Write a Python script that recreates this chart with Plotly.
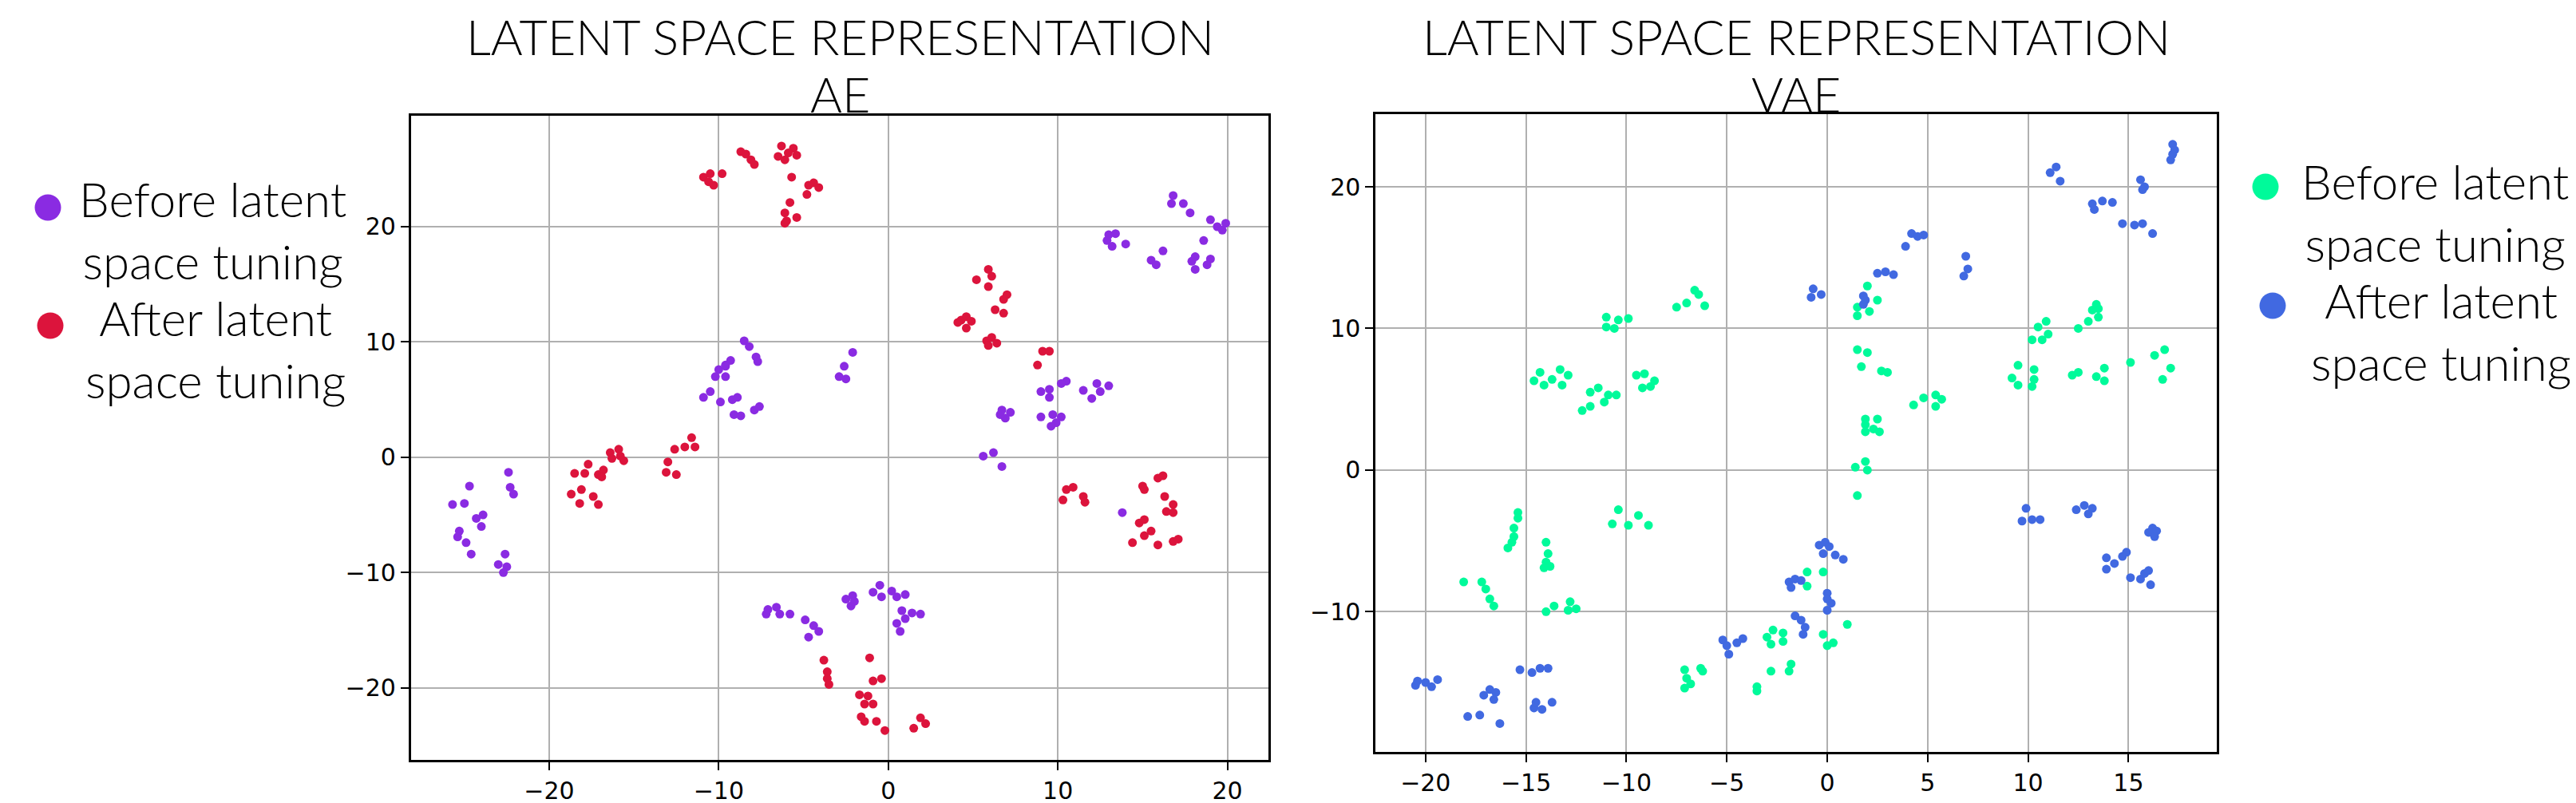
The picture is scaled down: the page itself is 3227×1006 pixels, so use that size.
import plotly.graph_objects as go

# ---- AE latent space (left panel) ----
ae_before_x = [-10.0, -9.6, -8.5, -8.2, -7.8, -7.7, -9.3, -9.6, -10.2, -9.6, -10.5, -10.9, -9.9, -9.2, -8.9,
               -9.1, -8.7, -7.9, -7.6, -2.1, -2.6, -2.9, -2.5,
               16.8, 16.7, 17.4, 17.8, 19.0, 19.4, 19.9, 19.7, 18.6, 13.0, 13.4, 13.2, 14.0, 12.9, 15.5, 16.2,
               15.8, 18.1, 17.9, 18.1, 19.0, 18.8,
               10.5, 10.2, 9.0, 9.5, 9.5, 11.5, 12.3, 13.0, 12.5, 12.0, 6.7, 7.2, 6.9, 6.6, 9.0, 9.7, 10.2, 9.9,
               9.6, 5.6, 6.2, 6.7, 13.8,
               -22.4, -22.3, -22.1, -24.7, -25.7, -25.0, -24.3, -23.9, -24.0, -25.3, -25.4, -24.9, -24.6, -22.6,
               -23.0, -22.5, -22.7,
               -7.2, -7.1, -6.6, -6.4, -5.8, -4.9, -4.4, -4.1, -4.7, -2.5, -2.1, -2.2, -2.0, -0.5, -0.9, -0.4,
               0.2, 0.5, 1.0, 0.8, 1.4, 1.9, 0.5, 1.0, 0.7]
ae_before_y = [7.6, 8.0, 10.1, 9.6, 8.7, 8.3, 8.4, 7.9, 7.0, 7.0, 5.7, 5.2, 4.8, 5.0, 5.2,
               3.7, 3.6, 4.1, 4.4, 9.1, 7.9, 7.0, 6.8,
               22.7, 22.0, 22.0, 21.2, 20.6, 20.0, 20.3, 19.7, 18.8, 19.3, 19.4, 18.3, 18.5, 18.8, 17.1, 17.9,
               16.7, 17.4, 17.0, 16.3, 17.2, 16.7,
               6.6, 6.4, 5.7, 5.9, 5.2, 5.8, 6.4, 6.2, 5.7, 5.1, 4.1, 3.9, 3.4, 3.7, 3.5, 3.7, 3.5, 3.0,
               2.7, 0.1, 0.4, -0.8, -4.8,
               -1.3, -2.6, -3.2, -2.5, -4.1, -4.0, -5.3, -5.0, -6.0, -6.4, -6.9, -7.4, -8.4, -8.4,
               -9.3, -9.5, -10.0,
               -13.6, -13.2, -13.0, -13.6, -13.6, -14.1, -14.6, -15.1, -15.6, -12.3, -12.0, -12.9, -12.5, -11.1,
               -11.7, -12.1, -11.6, -12.1, -11.9, -13.3, -13.5, -13.6, -14.4, -14.0, -15.1]

ae_after_x = [-10.9, -10.5, -10.6, -10.3, -9.8, -8.7, -8.4, -8.1, -7.9, -6.3, -6.5, -6.1, -5.6, -5.4, -5.9,
              -5.7, -4.7, -4.1, -4.8, -4.4, -5.8, -6.1, -6.0, -5.4, -6.1,
              5.9, 5.2, 6.1, 5.9, 7.0, 6.8, 6.3, 6.8, 4.3, 4.6, 4.1, 4.6, 4.9, 5.8, 6.1, 6.4, 5.9, 9.1, 9.5,
              8.8,
              -18.5, -17.7, -17.9, -17.1, -16.8, -16.9, -16.4, -15.9, -15.8, -15.6, -16.3, -18.7, -18.1,
              -18.2, -17.4, -17.1, -11.6, -11.4, -12.0, -12.6, -13.0, -13.1, -12.5,
              10.5, 10.9, 10.3, 11.5, 11.6, 15.0, 15.1, 15.9, 16.2, 16.3, 16.8, 16.4, 16.8, 14.8, 15.1, 15.1,
              15.5, 14.4, 15.9, 16.8, 17.1,
              -3.8, -3.6, -3.6, -3.5, -1.1, -0.9, -0.4, -1.7, -1.2, -1.4, -0.9, -1.6, -1.4, -0.7, -0.2,
              1.5, 1.9, 2.2]
ae_after_y = [24.3, 24.6, 23.9, 23.6, 24.6, 26.5, 26.3, 25.8, 25.4, 27.0, 26.1, 25.8, 26.8, 26.2, 26.4,
              24.3, 23.6, 23.4, 22.8, 23.8, 22.1, 21.2, 20.5, 20.8, 20.3,
              16.3, 15.4, 15.7, 14.8, 14.1, 13.7, 12.8, 12.5, 11.9, 12.2, 11.7, 11.2, 11.8, 10.1, 10.4, 9.9,
              9.7, 9.2, 9.2, 8.0,
              -1.4, -0.6, -1.4, -1.5, -1.1, -1.7, 0.4, 0.7, 0.1, -0.3, -0.1, -3.2, -2.8,
              -4.0, -3.4, -4.1, 1.7, 0.9, 0.9, 0.7, -0.4, -1.3, -1.5,
              -2.8, -2.6, -3.7, -3.4, -3.9, -2.5, -2.8, -1.8, -1.6, -3.4, -4.1, -4.7, -4.8, -5.7, -5.4, -6.8,
              -6.4, -7.4, -7.6, -7.3, -7.1,
              -17.6, -18.6, -19.2, -19.7, -17.4, -19.4, -19.2, -20.6, -20.7, -21.4, -21.4, -22.5, -22.9,
              -22.9, -23.7, -23.5, -22.6, -23.1]

# ---- VAE latent space (right panel) ----
vae_before_x = [2.0, 2.5, 1.5, 2.1, 1.5, -6.6, -6.4, -7.0, -6.1, -7.5, -11.0, -10.4, -9.9, -11.0, -10.6,
                13.4, 13.5, 13.2, 13.5, 13.0, 12.5, 10.9, 10.5, 11.0, 10.2, 10.7,
                1.5, 2.0, 1.7, 2.7, 3.0, 16.8, 16.3, 17.1, 16.7, 15.1, 13.8, 13.4, 13.8, 12.2, 12.5,
                9.5, 9.2, 10.3, 10.3, 10.2, 9.5,
                -14.3, -14.6, -14.1, -13.7, -13.3, -12.9, -13.2, -9.5, -9.1, -8.6, -9.2, -8.8,
                -11.8, -11.4, -10.9, -10.5, -11.1, -11.8, -12.2,
                4.8, 5.4, 5.7, 4.3, 5.4, 1.9, 2.5, 1.9, 2.3, 1.9, 2.6, 1.9, 1.4, 2.0, 1.5,
                -10.4, -10.7, -9.9, -9.4, -8.9, -15.4, -15.4, -15.6, -15.6, -15.7, -15.9,
                -14.0, -13.9, -14.0, -14.1, -13.8, -18.1, -17.2, -17.0, -16.8, -16.6,
                -14.0, -13.6, -12.8, -12.9, -12.5, -1.0, -0.2, -1.0, 1.0,
                -2.7, -2.2, -3.0, -2.8, -2.2, -0.2, 0.0, 0.3,
                -7.1, -7.0, -6.8, -7.1, -6.3, -6.2, -2.8, -1.8, -1.9, -3.5, -3.5]
vae_before_y = [13.0, 12.0, 11.5, 11.2, 10.9, 12.7, 12.4, 11.8, 11.6, 11.5, 10.8, 10.6, 10.7, 10.1, 10.0,
                11.7, 11.4, 11.3, 10.8, 10.5, 10.0, 10.5, 10.1, 9.6, 9.2, 9.2,
                8.5, 8.3, 7.3, 7.0, 6.9, 8.5, 8.1, 7.2, 6.4, 7.6, 7.2, 6.6, 6.3, 6.7, 6.9,
                7.4, 6.5, 7.1, 6.4, 5.9, 6.0,
                6.9, 6.3, 6.0, 6.4, 7.1, 6.7, 6.0, 6.7, 6.8, 6.3, 5.8, 5.9,
                5.5, 5.8, 5.3, 5.3, 4.8, 4.5, 4.2,
                5.1, 5.3, 5.0, 4.6, 4.5, 3.6, 3.6, 3.2, 2.9, 2.7, 2.7, 0.6, 0.2, 0.0, -1.8,
                -2.8, -3.8, -3.9, -3.2, -3.9, -3.0, -3.4, -4.1, -4.7, -5.1, -5.5,
                -5.1, -5.9, -6.5, -6.9, -6.8, -7.9, -7.9, -8.4, -9.1, -9.6,
                -10.0, -9.6, -9.3, -9.9, -9.8, -7.2, -7.2, -8.2, -10.9,
                -11.3, -11.5, -11.8, -12.3, -12.1, -11.6, -12.4, -12.2,
                -14.1, -14.7, -15.1, -15.4, -14.0, -14.2, -14.2, -13.7, -14.2, -15.3, -15.6]

vae_after_x = [17.2, 17.3, 17.1, 17.2, 11.1, 11.4, 11.6, 15.6, 15.8, 15.7, 13.2, 13.7, 14.2, 13.3,
               14.7, 15.3, 15.7, 16.2, 4.2, 4.5, 4.8, 3.9, 6.9, 7.0, 6.8, 2.9, 3.3, 2.5,
               -0.7, -0.3, -0.8, 1.8, 1.9, 1.8,
               -0.4, -0.1, 0.1, -0.2, 0.4, 0.8, -1.9, -1.6, -1.3, -1.8, 0.0, 0.0, 0.2, 0.0,
               -1.6, -1.3, -1.1, -1.2, -5.2, -5.0, -4.9, -4.5, -4.2,
               9.9, 9.7, 10.2, 10.6, 12.4, 12.8, 13.0, 13.2, 16.2, 16.0, 16.4, 16.3,
               13.9, 13.9, 14.3, 14.7, 14.9, 15.1, 15.6, 15.8, 16.0, 16.1,
               -20.5, -20.4, -20.0, -19.7, -19.4, -17.1, -16.8, -16.5, -16.6, -17.9, -17.3, -16.3,
               -15.3, -14.7, -14.3, -13.9, -14.6, -14.2, -14.5, -13.7]
vae_after_y = [23.0, 22.6, 21.9, 22.3, 21.0, 21.4, 20.4, 20.5, 20.0, 19.8, 18.8, 19.0, 18.9, 18.4,
               17.4, 17.3, 17.4, 16.7, 16.7, 16.5, 16.6, 15.8, 15.1, 14.2, 13.7, 14.0, 13.8, 13.9,
               12.8, 12.4, 12.2, 12.3, 12.0, 11.7,
               -5.3, -5.1, -5.4, -5.9, -6.0, -6.3, -7.9, -7.7, -7.8, -8.3, -8.7, -9.1, -9.4, -9.9,
               -10.3, -10.6, -11.1, -11.6, -12.0, -12.4, -13.0, -12.2, -11.9,
               -2.7, -3.6, -3.5, -3.5, -2.8, -2.5, -3.1, -2.7, -4.1, -4.4, -4.3, -4.7,
               -6.2, -7.0, -6.6, -6.1, -5.8, -7.6, -7.7, -7.3, -7.1, -8.1,
               -15.2, -14.9, -15.0, -15.3, -14.8, -15.9, -15.5, -15.7, -16.2, -17.4, -17.3, -17.9,
               -14.1, -14.3, -14.0, -14.0, -16.8, -16.9, -16.4, -16.4]

legend_labels = ["Before latent<br>space tuning", "After latent<br>space tuning"]
panel_titles = ["LATENT SPACE REPRESENTATION", "AE", "VAE"]

PURPLE = "#8a2be2"
RED = "#dc143c"
GREEN = "#00fa9a"
BLUE = "#4169e1"

W, H = 3227, 1006
light_font = "Lato, Roboto, 'Open Sans', sans-serif"

fig = go.Figure()
fig.add_trace(go.Scatter(x=ae_before_x, y=ae_before_y, mode="markers", name="AE before",
                         marker=dict(color=PURPLE, size=11), xaxis="x", yaxis="y"))
fig.add_trace(go.Scatter(x=ae_after_x, y=ae_after_y, mode="markers", name="AE after",
                         marker=dict(color=RED, size=11), xaxis="x", yaxis="y"))
fig.add_trace(go.Scatter(x=vae_before_x, y=vae_before_y, mode="markers", name="VAE before",
                         marker=dict(color=GREEN, size=11), xaxis="x2", yaxis="y2"))
fig.add_trace(go.Scatter(x=vae_after_x, y=vae_after_y, mode="markers", name="VAE after",
                         marker=dict(color=BLUE, size=11), xaxis="x2", yaxis="y2"))

axis_style = dict(showline=True, mirror=True, linecolor="black", linewidth=2.5,
                  ticks="outside", ticklen=10, tickwidth=2, tickcolor="black",
                  showgrid=True, gridcolor="#b0b0b0", gridwidth=2, zeroline=False,
                  tickfont=dict(family="DejaVu Sans", size=30, color="black"))


def px_x(v):
    return v / W


def px_y(v):
    return 1 - v / H


# legend: big dot + centred two-line label, placed in pixels like the original
legend_items = [
    (52, 252, PURPLE, 258, 203, legend_labels[0]),
    (55, 400, RED, 262, 352, legend_labels[1]),
    (2830, 226, GREEN, 3042, 181, legend_labels[0]),
    (2839, 375, BLUE, 3050, 330, legend_labels[1]),
]
shapes = []
annotations = []
for cx, cy, col, tx, ty, label in legend_items:
    shapes.append(dict(type="circle", xref="paper", yref="paper",
                       xsizemode="pixel", ysizemode="pixel",
                       xanchor=px_x(cx), yanchor=px_y(cy),
                       x0=-16.5, x1=16.5, y0=-16.5, y1=16.5,
                       fillcolor=col, line=dict(width=0)))
    annotations.append(dict(text=label, x=px_x(tx), y=px_y(ty), xref="paper", yref="paper",
                            xanchor="center", yanchor="top", align="center", showarrow=False,
                            font=dict(family=light_font, size=60, color="black", weight=300)))

# panel titles, one annotation per line; boxes stacked so they neither overlap nor leave the page
title_lines = [
    (1044, 0, "top", panel_titles[0]), (1044, 147, "bottom", panel_titles[1]),
    (2242, 0, "top", panel_titles[0]), (2242, 147, "bottom", panel_titles[2]),
]
for tx, ypix, anchor, txt in title_lines:
    annotations.append(dict(text=txt, x=px_x(tx), y=px_y(ypix), xref="paper", yref="paper",
                            xanchor="center", yanchor=anchor, showarrow=False, borderpad=0,
                            font=dict(family=light_font, size=61, color="black", weight=300)))

fig.update_layout(
    width=W, height=H,
    margin=dict(l=0, r=0, t=0, b=0),
    plot_bgcolor="white", paper_bgcolor="white",
    showlegend=False,
    xaxis=dict(domain=[0.157, 0.4898], range=[-28.16, 22.4], dtick=10, anchor="y", **axis_style),
    yaxis=dict(domain=[0.0613, 0.8635], range=[-26.27, 29.6], dtick=10, anchor="x", **axis_style),
    xaxis2=dict(domain=[0.5315, 0.8581], range=[-22.49, 19.4], dtick=5, anchor="y2", **axis_style),
    yaxis2=dict(domain=[0.0713, 0.8661], range=[-19.92, 25.15], dtick=10, anchor="x2", **axis_style),
    shapes=shapes,
    annotations=annotations,
)

fig.write_html("out.html")
